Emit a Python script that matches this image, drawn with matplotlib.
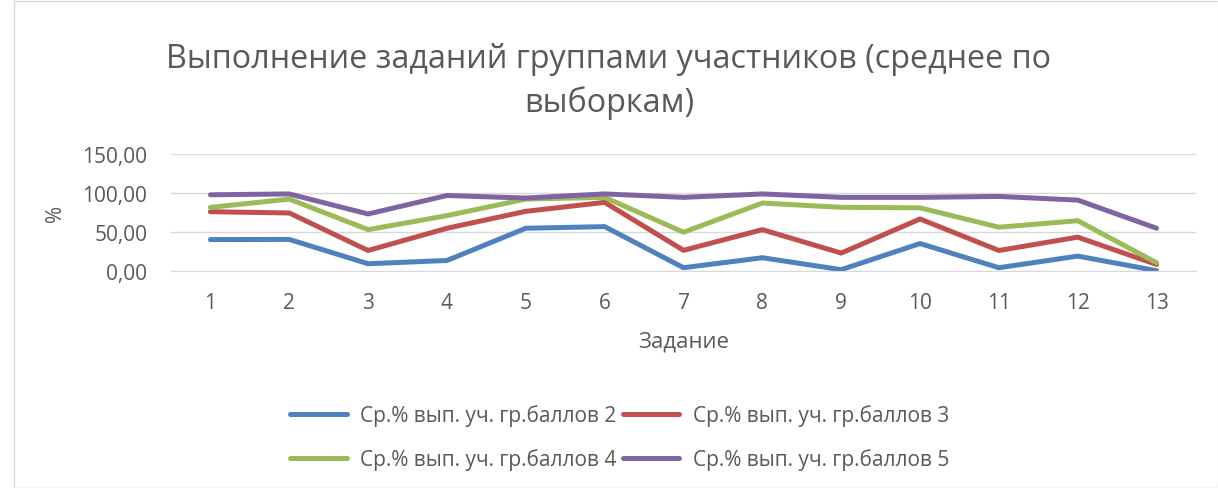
import matplotlib
matplotlib.use("Agg")
import matplotlib.pyplot as plt
from matplotlib.patches import Rectangle
from matplotlib.ticker import FuncFormatter

plt.rcParams['font.family'] = ['Open Sans', 'DejaVu Sans']

tasks = list(range(1, 14))
grp2 = [40.3, 40.5, 9.3, 13.5, 54.8, 56.9, 4.2, 17.0, 1.7, 35.2, 4.2, 19.1, 0.4]
grp3 = [76.0, 74.4, 26.3, 54.8, 76.5, 88.0, 26.5, 53.0, 23.0, 66.7, 26.3, 43.4, 8.4]
grp4 = [81.6, 92.2, 53.0, 71.0, 92.2, 94.4, 49.7, 87.1, 81.6, 81.0, 56.1, 64.5, 10.6]
grp5 = [97.7, 98.8, 73.1, 96.8, 93.5, 98.8, 94.4, 98.8, 94.4, 94.4, 95.6, 90.9, 54.8]
labels = ["Ср.% вып. уч. гр.баллов 2", "Ср.% вып. уч. гр.баллов 3",
          "Ср.% вып. уч. гр.баллов 4", "Ср.% вып. уч. гр.баллов 5"]
colors = ["#4f81bd", "#c0504d", "#9bbb59", "#8064a2"]

W, H = 1218, 489
fig = plt.figure(figsize=(W / 100, H / 100), dpi=100)
fig.patches.append(Rectangle((14 / W, 0), 1 - 14 / W, 1 - 2 / H, transform=fig.transFigure,
                             fill=False, edgecolor="#d9d9d9", linewidth=1))

ax = fig.add_axes([171 / W, 1 - 272 / H, (1196 - 171) / W, (272 - 155) / H])
lines = []
for vals, lab, col in zip([grp2, grp3, grp4, grp5], labels, colors):
    ln, = ax.plot(tasks, vals, color=col, linewidth=3.6, label=lab, solid_capstyle="round")
    lines.append(ln)

ax.set_xlim(0.5, 13.5)
ax.set_ylim(0, 150)
ax.set_yticks([0, 50, 100, 150])
ax.yaxis.set_major_formatter(FuncFormatter(lambda v, p: f"{v:.2f}".replace(".", ",")))
ax.set_xticks(tasks)
ax.grid(axis="y", color="#d9d9d9", linewidth=1)
ax.set_axisbelow(True)
for s in ["top", "right", "left"]:
    ax.spines[s].set_visible(False)
ax.spines["bottom"].set_color("#d9d9d9")
ax.tick_params(length=0, labelsize=15, colors="#595959")
ax.tick_params(axis="y", pad=17)
ax.tick_params(axis="x", pad=15)

ax.set_ylabel("%", fontsize=15, color="#595959", labelpad=12)
ax.set_xlabel("Задание", fontsize=16, color="#595959", labelpad=13)

fig.text(0.5, 1 - 60 / H, "Выполнение заданий группами участников (среднее по",
         ha="center", va="center", fontsize=23.3, color="#595959")
fig.text(0.5, 1 - 103 / H, "выборкам)", ha="center", va="center", fontsize=23.3, color="#595959")

# matplotlib fills legend columns first, reorder so rows read 2,3 / 4,5
order = [0, 2, 1, 3]
fig.legend([lines[i] for i in order], [labels[i] for i in order],
           loc="center", bbox_to_anchor=(620 / W, 1 - 438 / H), ncol=2, frameon=False,
           fontsize=15, labelcolor="#595959", handlelength=2.7, columnspacing=0.3,
           handletextpad=0.67, labelspacing=1.05, borderpad=0)

fig.savefig("out.png", dpi=100)
